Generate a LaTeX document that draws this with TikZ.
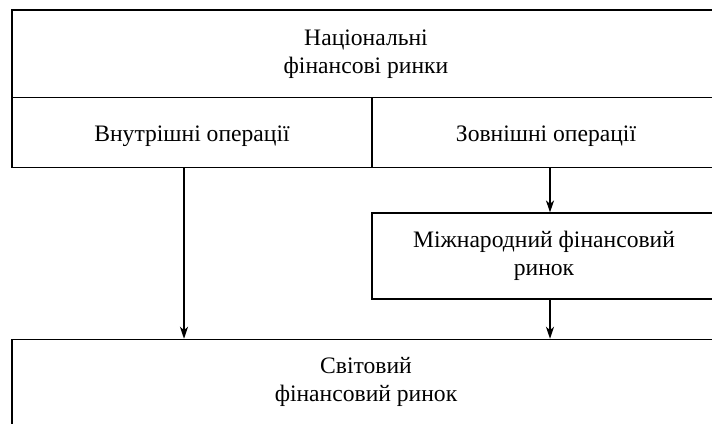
\documentclass[tikz,border=0pt]{standalone}
\usepackage{fontspec}
\setmainfont{Liberation Serif}
\usepackage{tikz}
\usetikzlibrary{arrows.meta, positioning}

\tikzset{
    cell/.style={draw, line width=1.5pt, rectangle, align=center, inner sep=0pt,
        font=\fontsize{23.6}{28}\selectfont},
    oneline/.style={text height=18pt, text depth=0pt},
    >={Stealth[length=12pt, width=8pt, inset=3.5pt]}
}

\begin{document}
\begin{tikzpicture}[x=1pt, y=-1pt]
    \useasboundingbox (0, 0) rectangle (712, 423);
    \clip (0, 0) rectangle (712, 423);

    \node[cell, minimum width=708pt, minimum height=87.7pt] (nat) at (366, 53.85) {Національні\\фінансові ринки};
    \node[cell, oneline, minimum width=360pt, minimum height=70pt] (inner) at (192, 132.7) {Внутрішні операції};
    \node[cell, oneline, minimum width=348pt, minimum height=70pt] (outer) at (546, 132.7) {Зовнішні операції};
    \node[cell, minimum width=344pt, minimum height=86pt] (intl) at (544, 256.2) {Міжнародний фінансовий\\ринок};
    \node[cell, text height=44pt, text depth=13pt, minimum width=708pt, minimum height=93.5pt] (world) at (366, 386.25) {Світовий\\фінансовий ринок};

    \coordinate (c1) at (184, 0);
    \coordinate (c2) at (550, 0);

    \draw[line width=1.5pt]
    (inner.south -| c1) edge[->] (world.north -| c1)
    (outer.south -| c2) edge[->] (intl.north -| c2)
    (intl.south -| c2) edge[->] (world.north -| c2);
\end{tikzpicture}
\end{document}
